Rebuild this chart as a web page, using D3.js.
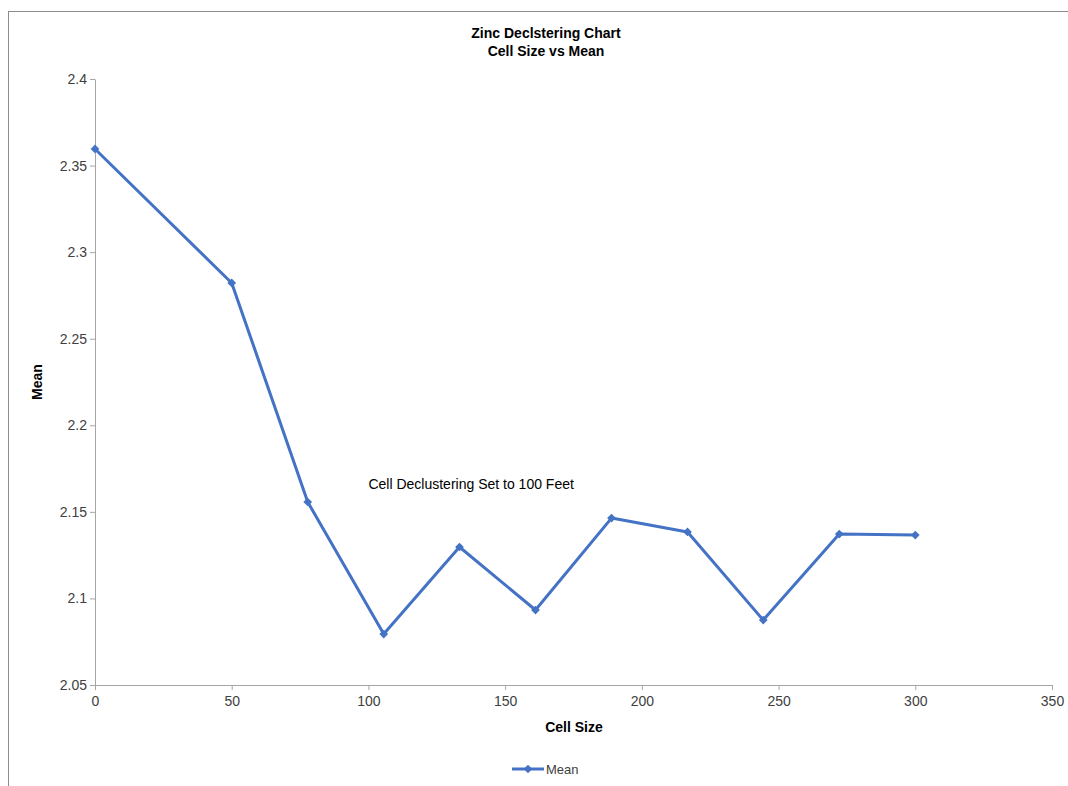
<!DOCTYPE html>
<html><head><meta charset="utf-8">
<script src="https://cdn.jsdelivr.net/npm/d3@7"></script>
<style>body{margin:0;background:#fff;}svg{display:block;font-family:"Liberation Sans",Arial,sans-serif;}</style>
</head><body>
<svg id="c" width="1068" height="786"></svg>
<script>
const cellSize = [0, 50, 77.8, 105.6, 133.3, 161.1, 188.9, 216.7, 244.4, 272.2, 300];
const meanValues = [2.3596, 2.2822, 2.1557, 2.0794, 2.1297, 2.0933, 2.1464, 2.1384, 2.0875, 2.1372, 2.1366];
const xTicks = [0, 50, 100, 150, 200, 250, 300, 350];
const yTicks = [2.05, 2.1, 2.15, 2.2, 2.25, 2.3, 2.35, 2.4];
const titleLines = ["Zinc Declstering Chart", "Cell Size vs Mean"];
const seriesName = "Mean";
const annotation = {x: 100, y: 2.166, text: "Cell Declustering Set to 100 Feet"};

const svg = d3.select("#c");
const color = "#4472C4", axisColor = "#a6a6a6", textColor = "#404040";
// frame
svg.append("rect").attr("x", 8.5).attr("y", 11.5).attr("width", 1080).attr("height", 800)
  .attr("fill", "none").attr("stroke", "#8c8c8c").attr("stroke-width", 1);

const x = d3.scaleLinear().domain([0, 350]).range([95, 1052]);
const y = d3.scaleLinear().domain([2.05, 2.4]).range([685, 79]);

const xAxis = svg.append("g").attr("transform", "translate(0,685)")
  .call(d3.axisBottom(x).tickValues(xTicks).tickSize(5).tickSizeOuter(0).tickFormat(d3.format("d")));
const yAxis = svg.append("g").attr("transform", "translate(95,0)")
  .call(d3.axisLeft(y).tickValues(yTicks).tickSize(5).tickSizeOuter(0).tickFormat(d => d3.format("")(+d.toFixed(2))));
[xAxis, yAxis].forEach(a => {
  a.select(".domain").attr("stroke", axisColor);
  a.selectAll(".tick line").attr("stroke", axisColor);
  a.selectAll(".tick text").attr("fill", textColor).attr("font-size", 14).attr("font-family", "Liberation Sans, Arial, sans-serif");
});
xAxis.selectAll(".tick text").attr("dy", "0.95em");
yAxis.selectAll(".tick text").attr("x", -8);

const line = d3.line().x((d, i) => x(cellSize[i])).y(d => y(d));
svg.append("path").datum(meanValues).attr("d", line).attr("fill", "none")
  .attr("stroke", color).attr("stroke-width", 3).attr("stroke-linejoin", "round");
const diamond = d3.symbol().type(d3.symbolSquare).size(38);
svg.selectAll(".pt").data(meanValues).join("path").attr("class", "pt")
  .attr("d", diamond).attr("fill", color)
  .attr("transform", (d, i) => `translate(${x(cellSize[i])},${y(d)}) rotate(45)`);

// title
svg.append("text").attr("x", 546).attr("y", 38).attr("text-anchor", "middle")
  .attr("font-weight", "bold").attr("font-size", 14).attr("fill", "#000").text(titleLines[0]);
svg.append("text").attr("x", 546).attr("y", 56).attr("text-anchor", "middle")
  .attr("font-weight", "bold").attr("font-size", 14).attr("fill", "#000").text(titleLines[1]);

// axis titles
svg.append("text").attr("x", 574).attr("y", 732).attr("text-anchor", "middle")
  .attr("font-weight", "bold").attr("font-size", 14).text("Cell Size");
svg.append("text").attr("transform", "translate(42,382) rotate(-90)").attr("text-anchor", "middle")
  .attr("font-weight", "bold").attr("font-size", 14).text("Mean");

// annotation
svg.append("text").attr("x", x(annotation.x)).attr("y", y(annotation.y) + 5)
  .attr("font-size", 14).attr("fill", "#000").text(annotation.text);

// legend
const lg = svg.append("g").attr("transform", "translate(512,769)");
lg.append("line").attr("x1", 0).attr("x2", 32).attr("stroke", color).attr("stroke-width", 3);
lg.append("path").attr("d", diamond).attr("fill", color).attr("transform", "translate(16,0) rotate(45)");
lg.append("text").attr("x", 34).attr("y", 5).attr("font-size", 13).attr("fill", textColor).text(seriesName);
</script>
</body></html>
